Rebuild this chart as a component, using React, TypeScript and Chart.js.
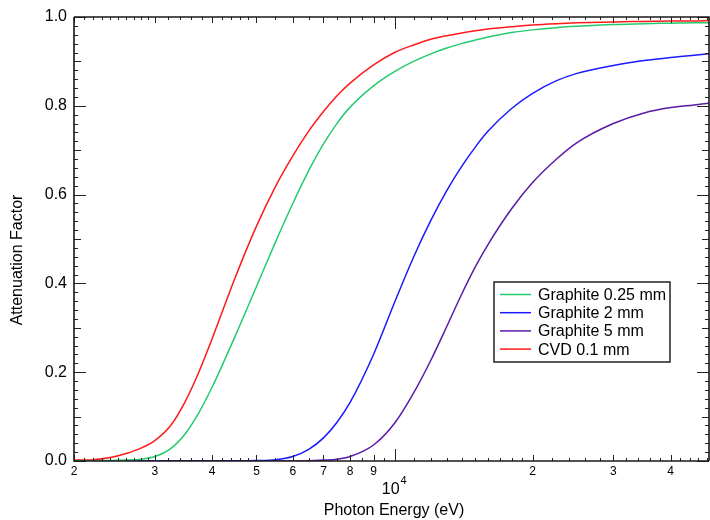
import React, { useEffect, useRef } from 'react';
import { Chart, registerables } from 'chart.js';

Chart.register(...registerables);

// Photon energies (eV)
const energies = [
  2000, 2200, 2400, 2600, 2800, 3000, 3250, 3500, 3750, 4000,
  4500, 5000, 5500, 6000, 6500, 7000, 7500, 8000, 9000, 10000,
  11000, 12000, 13000, 14000, 15000, 16000, 18000, 20000, 22500, 25000,
  30000, 35000, 40000, 45000, 48500,
];

const graphite025 = [
  0.0, 0.0005, 0.001, 0.002, 0.004, 0.01, 0.028, 0.062, 0.11, 0.166,
  0.283, 0.393, 0.493, 0.58, 0.654, 0.714, 0.761, 0.797, 0.845, 0.877,
  0.9, 0.917, 0.93, 0.94, 0.948, 0.955, 0.965, 0.971, 0.976, 0.979,
  0.983, 0.985, 0.986, 0.987, 0.987,
];

const graphite2 = [
  0, 0, 0, 0, 0, 0, 0, 0, 0, 0,
  0.0005, 0.001, 0.003, 0.01, 0.026, 0.052, 0.088, 0.132, 0.24, 0.357,
  0.459, 0.542, 0.609, 0.663, 0.707, 0.743, 0.794, 0.828, 0.856, 0.873,
  0.891, 0.902, 0.909, 0.914, 0.917,
];

const graphite5 = [
  0, 0, 0, 0, 0, 0, 0, 0, 0, 0,
  0, 0, 0, 0, 0.0005, 0.002, 0.004, 0.01, 0.036, 0.085,
  0.153, 0.227, 0.303, 0.375, 0.437, 0.488, 0.568, 0.627, 0.679, 0.717,
  0.76, 0.784, 0.796, 0.802, 0.806,
];

const cvd01 = [
  0.002, 0.003, 0.008, 0.017, 0.029, 0.046, 0.08, 0.135, 0.202, 0.275,
  0.415, 0.529, 0.618, 0.687, 0.743, 0.787, 0.823, 0.851, 0.892, 0.92,
  0.937, 0.95, 0.958, 0.964, 0.969, 0.973, 0.978, 0.982, 0.985, 0.987,
  0.989, 0.99, 0.991, 0.991, 0.992,
];

const seriesLabels = ['Graphite 0.25 mm', 'Graphite 2 mm', 'Graphite 5 mm', 'CVD 0.1 mm'];
const seriesColors = ['#22cc6e', '#1a1aff', '#5a1aa8', '#ff1a1a'];

const xMajorTicks = [2000, 3000, 4000, 5000, 6000, 7000, 8000, 9000, 10000, 20000, 30000, 40000];
const xTickLabels = ['2', '3', '4', '5', '6', '7', '8', '9', '', '2', '3', '4'];
const yTickValues = [0, 0.2, 0.4, 0.6, 0.8, 1.0];

const FONT = '"Liberation Sans", Arial, sans-serif';

function minorXTicks(): number[] {
  const out: number[] = [];
  for (let v = 2100; v < 3000; v += 100) out.push(v);
  for (let v = 3200; v < 5000; v += 200) if (v % 1000 !== 0) out.push(v);
  for (let v = 5500; v < 10000; v += 1000) out.push(v);
  for (let v = 11000; v < 20000; v += 1000) out.push(v);
  for (let v = 22000; v <= 48000; v += 2000) if (v % 10000 !== 0) out.push(v);
  return out;
}

const overlay = {
  id: 'overlay',
  afterDatasetsDraw(chart: any) {
    const ctx = chart.ctx as CanvasRenderingContext2D;
    const { left, right, top, bottom } = chart.chartArea;
    const xs = chart.scales.x;
    const ys = chart.scales.y;
    ctx.save();
    ctx.strokeStyle = '#222';
    ctx.lineWidth = 1;

    // x ticks bottom & top (inward)
    const drawX = (v: number, len: number) => {
      const px = Math.round(xs.getPixelForValue(v)) + 0.5;
      if (px < left || px > right) return;
      ctx.beginPath();
      ctx.moveTo(px, bottom);
      ctx.lineTo(px, bottom - len);
      ctx.moveTo(px, top);
      ctx.lineTo(px, top + len);
      ctx.stroke();
    };
    xMajorTicks.forEach((v) => drawX(v, v === 10000 ? 12 : 6));
    minorXTicks().forEach((v) => drawX(v, 3));

    // y ticks left & right (inward)
    for (let i = 0; i <= 50; i++) {
      const v = i / 50;
      const py = Math.round(ys.getPixelForValue(v)) + 0.5;
      const len = i % 10 === 0 ? 12 : i % 5 === 0 ? 7 : 4;
      ctx.beginPath();
      ctx.moveTo(left, py);
      ctx.lineTo(left + len, py);
      ctx.moveTo(right, py);
      ctx.lineTo(right - len, py);
      ctx.stroke();
    }

    // frame
    ctx.lineWidth = 1.6;
    ctx.strokeStyle = '#1a1a1a';
    ctx.beginPath();
    ctx.moveTo(left, top);
    ctx.lineTo(left, bottom);
    ctx.lineTo(right, bottom);
    ctx.moveTo(left, top);
    ctx.lineTo(right, top);
    ctx.lineTo(right, bottom);
    ctx.stroke();

    // 10^4 label
    const p4 = xs.getPixelForValue(10000);
    ctx.fillStyle = '#000';
    ctx.font = `16px ${FONT}`;
    ctx.textAlign = 'right';
    ctx.textBaseline = 'middle';
    ctx.fillText('10', p4 + 5, 490);
    ctx.font = `11px ${FONT}`;
    ctx.textAlign = 'left';
    ctx.fillText('4', p4 + 6, 481);

    // axis titles
    ctx.font = `16px ${FONT}`;
    ctx.textAlign = 'center';
    ctx.textBaseline = 'middle';
    ctx.fillText('Photon Energy (eV)', 394, 511);
    ctx.save();
    ctx.translate(18, 260);
    ctx.rotate(-Math.PI / 2);
    ctx.fillText('Attenuation Factor', 0, 0);
    ctx.restore();

    // legend
    const lx = 494, ly = 282, lw = 176, lh = 80;
    ctx.fillStyle = '#fff';
    ctx.fillRect(lx, ly, lw, lh);
    ctx.lineWidth = 1.5;
    ctx.strokeStyle = '#222';
    ctx.strokeRect(lx, ly, lw, lh);
    chart.data.datasets.forEach((ds: any, i: number) => {
      const y = 294.5 + i * 18.2;
      ctx.strokeStyle = ds.borderColor;
      ctx.lineWidth = 1.5;
      ctx.beginPath();
      ctx.moveTo(500, y);
      ctx.lineTo(531, y);
      ctx.stroke();
      ctx.fillStyle = '#000';
      ctx.font = `16px ${FONT}`;
      ctx.textAlign = 'left';
      ctx.textBaseline = 'middle';
      ctx.fillText(ds.label, 538, y + 1);
    });
    ctx.restore();
  },
};

export default function App() {
  const ref = useRef<HTMLCanvasElement | null>(null);
  useEffect(() => {
    if (!ref.current) return;
    const seriesValues = [graphite025, graphite2, graphite5, cvd01];
    const chart = new Chart(ref.current, {
      type: 'line',
      data: {
        datasets: seriesValues.map((vals, i) => ({
          label: seriesLabels[i],
          data: energies.map((e, j) => ({ x: e, y: vals[j] })),
          borderColor: seriesColors[i],
          backgroundColor: seriesColors[i],
          borderWidth: 1.5,
          pointRadius: 0,
          cubicInterpolationMode: 'monotone' as const,
          fill: false,
        })),
      },
      options: {
        animation: false,
        responsive: false,
        maintainAspectRatio: false,
        layout: { padding: { top: 17, right: 1, left: 0, bottom: 0 } },
        plugins: { legend: { display: false }, tooltip: { enabled: false } },
        scales: {
          x: {
            type: 'logarithmic',
            min: 2000,
            max: 48500,
            grid: { display: false, drawTicks: false },
            border: { display: false },
            afterBuildTicks: (s: any) => {
              s.ticks = xMajorTicks.map((v) => ({ value: v }));
            },
            afterFit: (s: any) => {
              s.height = 59;
            },
            ticks: {
              autoSkip: false,
              maxRotation: 0,
              minRotation: 0,
              padding: 3,
              color: '#000',
              font: { family: FONT, size: 12 },
              callback: (v: any) => {
                const idx = xMajorTicks.indexOf(Number(v));
                return idx >= 0 ? xTickLabels[idx] : '';
              },
            },
          },
          y: {
            min: 0,
            max: 1,
            grid: { display: false, drawTicks: false },
            border: { display: false },
            afterBuildTicks: (s: any) => {
              s.ticks = yTickValues.map((v) => ({ value: v }));
            },
            afterFit: (s: any) => {
              s.width = 74;
            },
            ticks: {
              padding: 7,
              color: '#000',
              font: { family: FONT, size: 16 },
              callback: (v: any) => Number(v).toFixed(1),
            },
          },
        },
      },
      plugins: [overlay],
    } as any);
    return () => chart.destroy();
  }, []);
  return (
    <div style={{ position: 'absolute', left: 0, top: 0, width: 710, height: 520, background: '#fff' }}>
      <canvas ref={ref} width={710} height={520} />
    </div>
  );
}
